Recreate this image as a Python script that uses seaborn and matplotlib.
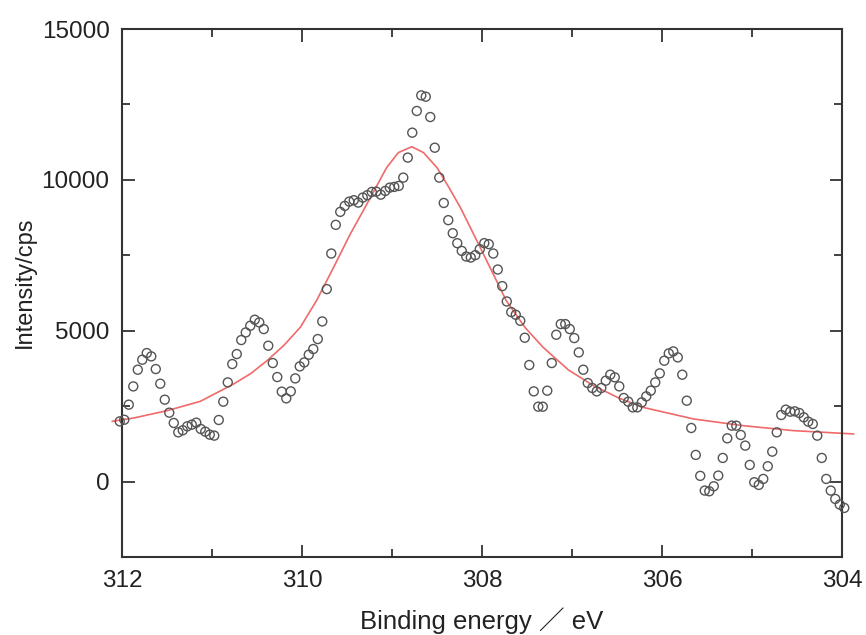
import numpy as np
import pandas as pd
import seaborn as sns
import matplotlib.pyplot as plt
from matplotlib.ticker import MultipleLocator

# measured spectrum, 0.05 eV steps starting at 312.025 eV
start_energy = 312.025
step_energy = 0.05
intensity = [
    1996, 2050, 2550, 3155, 3708, 4039, 4260, 4150, 3730, 3245,
    2715, 2285, 1943, 1633, 1700, 1832, 1887, 1953, 1744, 1655,
    1556, 1523, 2042, 2649, 3288, 3896, 4227, 4691, 4944, 5165,
    5364, 5275, 5055, 4503, 3929, 3465, 2980, 2758, 2990, 3420,
    3818, 3950, 4205, 4393, 4724, 5308, 6380, 7559, 8510, 8940,
    9138, 9280, 9326, 9248, 9413, 9492, 9600, 9610, 9510, 9634,
    9744, 9767, 9800, 10075, 10738, 11565, 12284, 12800, 12757, 12083,
    11066, 10075, 9235, 8665, 8233, 7902, 7646, 7459, 7426, 7505,
    7705, 7903, 7870, 7559, 7029, 6479, 5970, 5618, 5529, 5330,
    4768, 3863, 2990, 2483, 2483, 3013, 3929, 4867, 5220, 5220,
    5055, 4757, 4282, 3708, 3267, 3102, 2990, 3102, 3344, 3543,
    3455, 3156, 2770, 2649, 2460, 2460, 2626, 2825, 3013, 3288,
    3587, 4006, 4249, 4315, 4116, 3543, 2682, 1777, 884, 190,
    -298, -321, -155, 199, 784, 1434, 1854, 1854, 1545, 1192,
    552, -22, -110, 88, 508, 993, 1633, 2207, 2384, 2317,
    2328, 2273, 2130, 1987, 1910, 1523, 784, 88, -298, -574,
    -761, -872,
]
energy = start_energy - step_energy * np.arange(len(intensity))

# fitted curve
fit_energy = [312.11, 311.87, 311.50, 311.13, 310.76, 310.57, 310.39, 310.20,
              310.02, 309.84, 309.65, 309.47, 309.28, 309.06, 308.93, 308.78,
              308.65, 308.50, 308.37, 308.24, 308.02, 307.73, 307.52, 307.32,
              307.04, 306.76, 306.48, 306.21, 305.65, 305.10, 304.54, 303.87]
fit_intensity = [1996, 2108, 2350, 2660, 3235, 3580, 4006, 4520,
                 5110, 5993, 7095, 8170, 9195, 10406, 10903, 11100,
                 10903, 10406, 9760, 9083, 7757, 5993, 5100, 4446,
                 3700, 3178, 2770, 2460, 2076, 1854, 1689, 1579]

x_ticks = [312, 310, 308, 306, 304]
y_ticks = [0, 5000, 10000, 15000]

data = pd.DataFrame({"energy": energy, "intensity": intensity})
fit = pd.DataFrame({"energy": fit_energy, "intensity": fit_intensity})

sns.set_style("ticks")
plt.rcParams["font.family"] = ["Liberation Sans", "Noto Sans CJK JP", "DejaVu Sans"]

fig = plt.figure(figsize=(8.66, 6.35), dpi=100)
ax = fig.add_axes([0.1409, 0.1228, 0.8314, 0.8315])

sns.lineplot(data=fit, x="energy", y="intensity", ax=ax, color="#f06a6a",
             linewidth=1.2, sort=False, estimator=None, zorder=2)
sns.scatterplot(data=data, x="energy", y="intensity", ax=ax, marker="o",
                s=42, facecolor="none", edgecolor="#555555", linewidth=1.0,
                zorder=3, clip_on=False)
for line in ax.lines:
    line.set_clip_on(False)

ax.set_xlim(312, 304)
ax.set_ylim(-2500, 15000)
ax.set_xticks(x_ticks)
ax.set_yticks(y_ticks)
ax.set_xticklabels([str(t) for t in x_ticks])
ax.set_yticklabels([str(t) for t in y_ticks])
ax.xaxis.set_minor_locator(MultipleLocator(1))
ax.yaxis.set_minor_locator(MultipleLocator(2500))

ax.tick_params(axis="both", which="both", direction="in", top=True, right=True,
               color="#333333", width=1.3)
ax.tick_params(axis="both", which="major", length=9, labelsize=17.5, pad=9,
               labelcolor="#222222")
ax.tick_params(axis="both", which="minor", length=6)
for spine in ax.spines.values():
    spine.set_color("#333333")
    spine.set_linewidth(1.5)

ax.set_xlabel("Binding energy \uff0f eV", fontsize=18.5, color="#222222")
ax.set_ylabel("Intensity/cps", fontsize=17, color="#222222")
ax.xaxis.set_label_coords(0.5, -0.095)
ax.yaxis.set_label_coords(-0.12, 0.52)

fig.savefig("out.png", dpi=100)
plt.close(fig)
